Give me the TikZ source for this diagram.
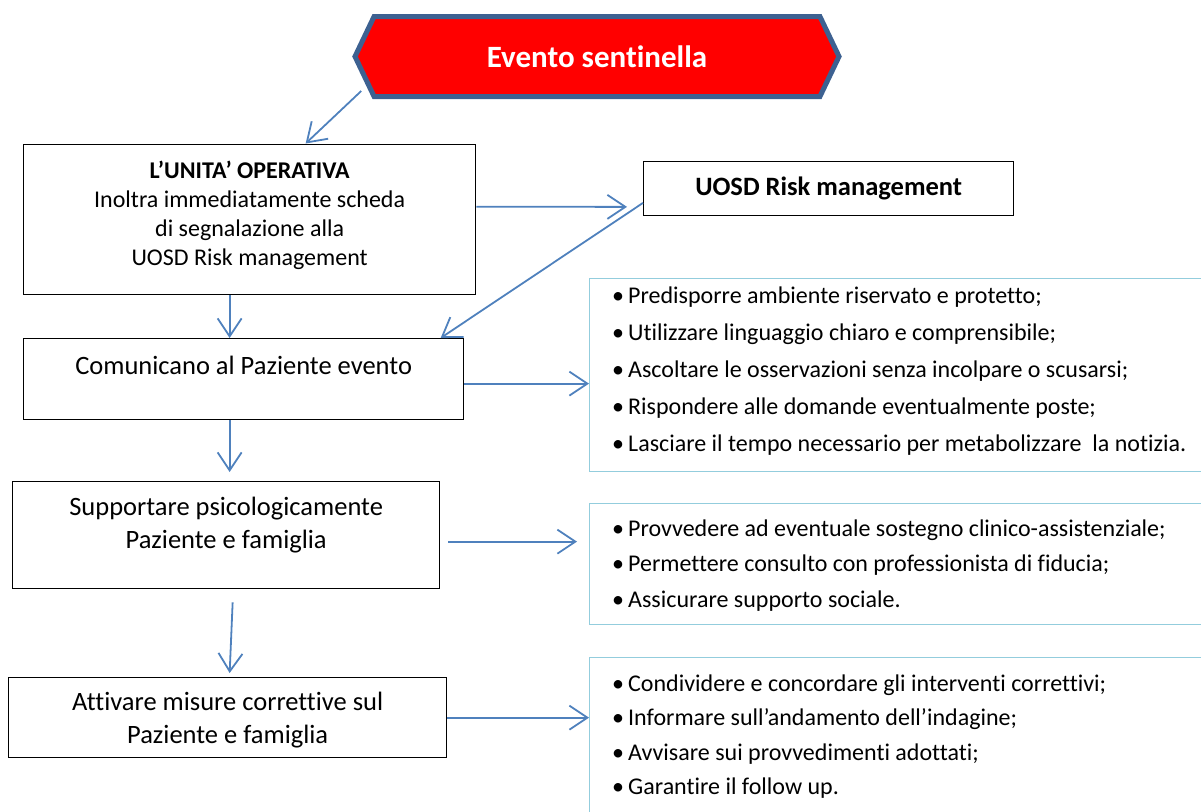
\documentclass[tikz,border=0pt]{standalone}
\usepackage{fontspec}
\setmainfont{Carlito}[Ligatures=NoCommon]
\usetikzlibrary{arrows.meta,shapes.symbols,calc,positioning}

\definecolor{linkblue}{HTML}{4F81BD}
\definecolor{hexline}{HTML}{3D6191}
\definecolor{listline}{HTML}{93CDDD}

\newcommand{\smallfont}{\fontsize{24}{29.2}\selectfont}
\newcommand{\bigfont}{\fontsize{26.5}{33}\selectfont}

\begin{document}
\begin{tikzpicture}[x=1pt,y=-1pt,
  box/.style={draw=black,line width=1.3pt,inner sep=0pt,anchor=north west},
  listbox/.style={draw=listline,line width=1.3pt,inner sep=0pt,anchor=north west},
  txt/.style={inner sep=0pt,align=center},
  item/.style={inner sep=0pt,anchor=base west,font=\smallfont},
  link/.style={draw=linkblue,line width=1.8pt,-{Straight Barb[length=18pt,width=24pt,line width=1.8pt]}}]

\useasboundingbox (0,0) rectangle (1201,811);
\clip (0,0) rectangle (1201,811);

% evento sentinella
\node[signal, signal to=west and east, signal pointer angle=129,
  draw=hexline, line width=5pt, fill=red, inner sep=0pt,
  minimum width=484pt, minimum height=80pt,
  text=white, font=\bfseries\fontsize{31}{36}\selectfont] (ev) at (597,56.5) {Evento sentinella};

% boxes
\node[box, minimum width=452pt, minimum height=150pt] (unita) at (23,143.5) {};
\node[box, minimum width=370pt, minimum height=53.5pt] (risk) at (643,161) {};
\node[box, minimum width=440pt, minimum height=81pt] (com) at (23,338) {};
\node[box, minimum width=427pt, minimum height=107pt] (supp) at (12,481) {};
\node[box, minimum width=438pt, minimum height=80pt] (corr) at (8,677) {};

\node[txt, font=\smallfont] (unitatxt) at ([yshift=4]unita.center)
  {\textbf{L’UNITA’ OPERATIVA}\\Inoltra immediatamente scheda\\di segnalazione alla\\UOSD Risk management};
\node[txt, font=\bfseries\bigfont] (risktxt) at (risk.center) {UOSD Risk management};
\node[txt, font=\bigfont] (comtxt) at ([yshift=14]com.center) {Comunicano al Paziente evento};
\node[txt, font=\bigfont] (supptxt) at ([yshift=10]supp.center) {Supportare psicologicamente\\Paziente e famiglia};
\node[txt, font=\bigfont] (corrtxt) at ([yshift=-2]corr.center) {Attivare misure correttive sul\\Paziente e famiglia};

% lists
\node[listbox, minimum width=640pt, minimum height=193pt] (list1) at (589,278) {};
\node[listbox, minimum width=640pt, minimum height=121pt] (list2) at (589,503) {};
\node[listbox, minimum width=640pt, minimum height=180pt] (list3) at (589,657) {};

\foreach \t [count=\i] in {{Predisporre ambiente riservato e protetto;},
  {Utilizzare linguaggio chiaro e comprensibile;},
  {Ascoltare le osservazioni senza incolpare o scusarsi;},
  {Rispondere alle domande eventualmente poste;},
  {Lasciare il tempo necessario per metabolizzare\ \ la notizia.}}
  \node[item] (a\i) at ($(list1.north west)+(23,{25+37*(\i-1)})$) {\makebox[16pt][l]{\textbullet}\t};

\foreach \t [count=\i] in {{Provvedere ad eventuale sostegno clinico-assistenziale;},
  {Permettere consulto con professionista di fiducia;},
  {Assicurare supporto sociale.}}
  \node[item] (b\i) at ($(list2.north west)+(23,{33+35.5*(\i-1)})$) {\makebox[16pt][l]{\textbullet}\t};

\foreach \t [count=\i] in {{Condividere e concordare gli interventi correttivi;},
  {Informare sull’andamento dell’indagine;},
  {Avvisare sui provvedimenti adottati;},
  {Garantire il follow up.}}
  \node[item] (c\i) at ($(list3.north west)+(23,{34.5+34.3*(\i-1)})$) {\makebox[16pt][l]{\textbullet}\t};

% connectors
\draw[link] ([xshift=9,yshift=-34.5]ev.west) -- ([xshift=56]unita.north);
\draw[link] ([yshift=12.5]unita.east) -- ([xshift=-16,yshift=-18.5]risk.west);
\draw[link] ([yshift=-14.5]risk.west) -- ([xshift=197]com.north);
\draw[link] ([xshift=-20]unita.south) -- ([xshift=-14]com.north);
\draw[link] ([yshift=-4.5]com.east) -- ([yshift=-4.5]com.east -| list1.west);
\draw[link] ([xshift=-14]com.south) -- ([xshift=3.5,yshift=9]supp.north);
\draw[link] ([xshift=8,yshift=-6.5]supp.east) -- ([xshift=-12,yshift=-6.5]supp.east -| list2.west);
\draw[link] ([xshift=6.5,yshift=-13]supp.south) -- ([xshift=2,yshift=4]corr.north);
\draw[link] (corr.east) -- (corr.east -| list3.west);

\end{tikzpicture}
\end{document}
